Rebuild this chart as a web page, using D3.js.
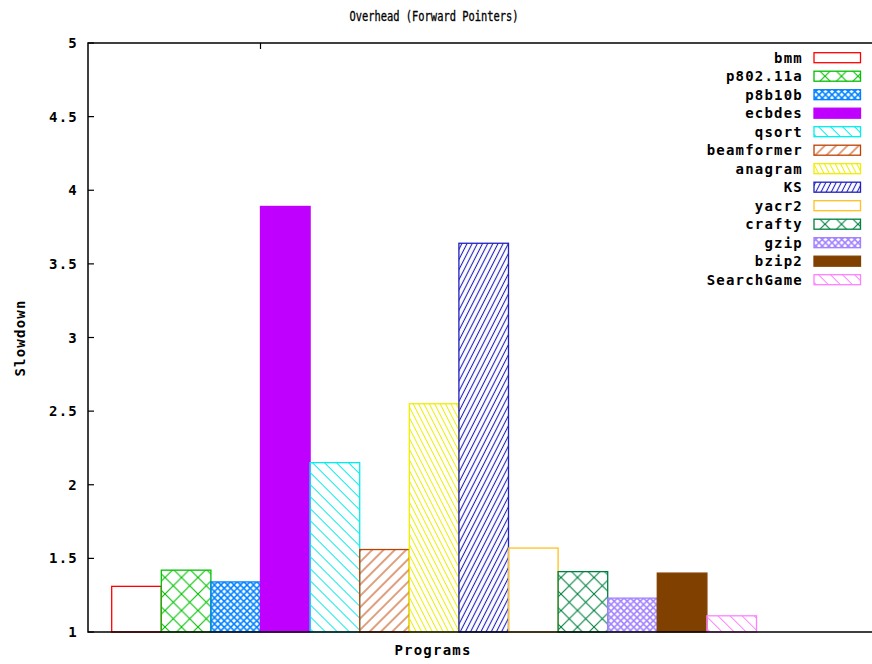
<!DOCTYPE html>
<html>
<head>
<meta charset="utf-8">
<script src="https://cdn.jsdelivr.net/npm/d3@7"></script>
<style>
  html, body { margin: 0; padding: 0; background: #fff; }
  svg { display: block; }
  .lbl { font-family: "DejaVu Sans Mono", monospace; font-weight: bold; font-size: 14px; letter-spacing: 1.2px; fill: #000; }
  .title { font-family: "DejaVu Sans Mono", monospace; font-size: 13px; fill: #000; }
</style>
</head>
<body>
<script>
// Benchmark programs, in plotting order
const programs = ["bmm", "p802.11a", "p8b10b", "ecbdes", "qsort", "beamformer", "anagram",
                  "KS", "yacr2", "crafty", "gzip", "bzip2", "SearchGame"];
// Slowdown with forward pointers
const slowdown = [1.31, 1.42, 1.34, 3.89, 2.15, 1.56, 2.55, 3.64, 1.57, 1.41, 1.23, 1.40, 1.11];
// Series colours and fill styles
const colors = ["#ff0000", "#00c000", "#0080ff", "#c000ff", "#00eeee", "#c04000", "#eeee00",
                "#2020c0", "#ffc020", "#008040", "#a080ff", "#804000", "#ff80ff"];
const fills = ["empty", "cross", "fine", "solid", "back", "fwd", "steepBack",
               "steepFwd", "empty", "cross", "fine", "solid", "back"];
// Y-axis ticks
const yTicks = [1, 1.5, 2, 2.5, 3, 3.5, 4, 4.5, 5];
const yTickLabels = ["1", "1.5", "2", "2.5", "3", "3.5", "4", "4.5", "5"];

const W = 872, H = 664;
const plot = { left: 88, top: 43, bottom: 632, right: 880 };

const svg = d3.select("body").append("svg").attr("width", W).attr("height", H);
const defs = svg.append("defs");

// Fill patterns
function makePattern(i) {
  const c = colors[i], type = fills[i], id = "pat" + i;
  if (type === "empty") return "none";
  if (type === "solid") return c;
  let p;
  if (type === "cross" || type === "fine") {
    const s = type === "cross" ? 16.5 : 6.5;
    const sw = type === "cross" ? 1.1 : 1.5;
    p = defs.append("pattern").attr("id", id).attr("patternUnits", "userSpaceOnUse")
      .attr("width", s).attr("height", s);
    p.append("path").attr("d", `M0,0L${s},${s}M${s},0L0,${s}`)
      .attr("stroke", c).attr("stroke-width", sw).attr("fill", "none");
  } else {
    const spec = {
      back: { gap: 8.5, rot: -45, sw: 1 },
      fwd: { gap: 8, rot: 45, sw: 1 },
      steepBack: { gap: 4.8, rot: -27, sw: 1 },
      steepFwd: { gap: 4.6, rot: 27, sw: 1.1 }
    }[type];
    p = defs.append("pattern").attr("id", id).attr("patternUnits", "userSpaceOnUse")
      .attr("width", spec.gap).attr("height", spec.gap)
      .attr("patternTransform", `rotate(${spec.rot})`);
    p.append("line").attr("x1", spec.gap / 2).attr("x2", spec.gap / 2)
      .attr("y1", 0).attr("y2", spec.gap)
      .attr("stroke", c).attr("stroke-width", spec.sw);
  }
  return `url(#${id})`;
}
const fillRef = programs.map((_, i) => makePattern(i));

// Scales
const y = d3.scaleLinear().domain([1, 5]).range([plot.bottom, plot.top]);
// x in axis units: one unit holds a cluster of 13 bars plus a 2-bar gap
const x = d3.scaleLinear().domain([0, 1]).range([260.5, 1004.5]);
const barW = 1 / (programs.length + 2);
const barStart = -3 * barW;

// Bars
svg.append("g").selectAll("rect").data(programs).join("rect")
  .attr("x", (d, i) => x(barStart + i * barW))
  .attr("y", (d, i) => y(slowdown[i]))
  .attr("width", x(barW) - x(0))
  .attr("height", (d, i) => y(1) - y(slowdown[i]))
  .attr("fill", (d, i) => fillRef[i])
  .attr("stroke", (d, i) => colors[i])
  .attr("stroke-width", 1.3);

// Frame
const axisColor = "#000";
svg.append("path")
  .attr("d", `M${plot.right},${plot.top}H${plot.left}V${plot.bottom}H${plot.right}`)
  .attr("fill", "none").attr("stroke", axisColor).attr("stroke-width", 1.5);

// Y ticks and labels
const yg = svg.append("g");
yg.selectAll("line").data(yTicks).join("line")
  .attr("x1", plot.left).attr("x2", plot.left + 6)
  .attr("y1", d => y(d)).attr("y2", d => y(d))
  .attr("stroke", axisColor).attr("stroke-width", 1.2);
yg.selectAll("text").data(yTicks).join("text")
  .attr("class", "lbl")
  .attr("x", 78).attr("y", d => y(d)).attr("dy", "0.36em")
  .attr("text-anchor", "end")
  .text((d, i) => yTickLabels[i]);

// X tick on the top border
svg.append("line")
  .attr("x1", x(0)).attr("x2", x(0))
  .attr("y1", plot.top).attr("y2", plot.top + 6)
  .attr("stroke", axisColor).attr("stroke-width", 1.2);

// Title and axis labels
svg.append("text").attr("class", "title")
  .attr("transform", "translate(434,21) scale(0.8,1.05)")
  .attr("text-anchor", "middle").attr("stroke", "#000").attr("stroke-width", 0.3)
  .text("Overhead (Forward Pointers)");
svg.append("text").attr("class", "lbl")
  .attr("x", 433).attr("y", 655).attr("text-anchor", "middle").text("Programs");
svg.append("text").attr("class", "lbl")
  .attr("transform", "translate(25,338) rotate(-90)")
  .attr("text-anchor", "middle").text("Slowdown");

// Legend
const legend = svg.append("g");
const rowY = d3.scaleLinear().domain([0, programs.length - 1]).range([57.7, 279.7]);
const rows = legend.selectAll("g").data(programs).join("g")
  .attr("transform", (d, i) => `translate(0,${rowY(i)})`);
rows.append("text").attr("class", "lbl")
  .attr("x", 803).attr("y", 0).attr("dy", "0.36em")
  .attr("text-anchor", "end").text(d => d);
rows.append("rect")
  .attr("x", 814).attr("y", -5).attr("width", 46.5).attr("height", 10)
  .attr("fill", (d, i) => fillRef[i] === "none" ? "#fff" : fillRef[i])
  .attr("stroke", (d, i) => colors[i]).attr("stroke-width", 1.3);
</script>
</body>
</html>
